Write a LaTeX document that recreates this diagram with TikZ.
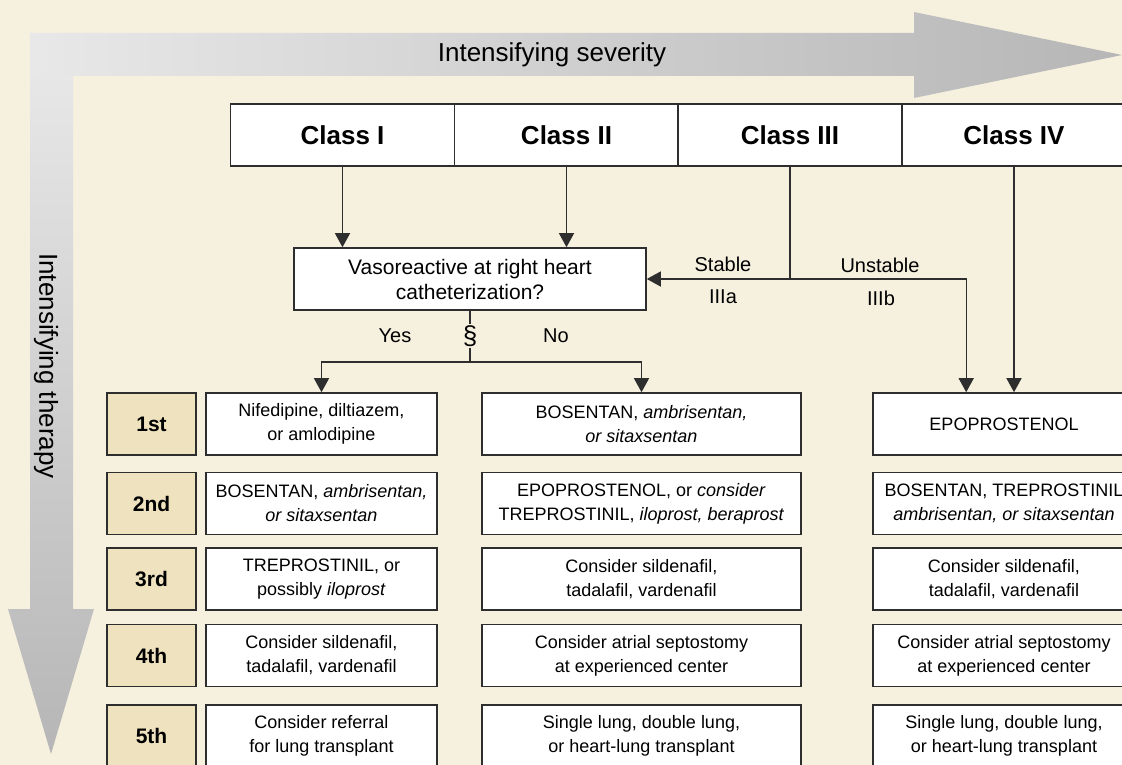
\documentclass[tikz,border=0pt]{standalone}
\usepackage{fontspec}
\setmainfont{Liberation Sans}
\usetikzlibrary{arrows.meta,calc}
\definecolor{bgc}{HTML}{F6F0DF}
\definecolor{tanc}{HTML}{EFE3BF}
\definecolor{edgec}{HTML}{2E2E2E}
\definecolor{arlight}{HTML}{E8E8E8}
\definecolor{ardark}{HTML}{B6B6B6}
\begin{document}
\begin{tikzpicture}[x=1pt,y=-1pt,
  box/.style={draw=edgec, line width=1.6pt, fill=white, inner sep=0pt, align=center,
    font=\fontsize{18}{24}\selectfont, text=black},
  rowbox/.style={box, fill=tanc, font=\fontsize{21}{24}\selectfont\bfseries,
    minimum width=89, minimum height=62},
  colA/.style={box, minimum width=231, minimum height=62},
  colB/.style={box, minimum width=319, minimum height=62},
  colC/.style={box, minimum width=262, minimum height=62},
  classbox/.style={box, font=\fontsize{26}{30}\selectfont\bfseries, minimum width=224, minimum height=62},
  lab/.style={font=\fontsize{20}{24}\selectfont, inner sep=1pt, text=black},
  bigtext/.style={font=\fontsize{26}{30}\selectfont, text=black},
  conn/.style={draw=edgec, line width=1.4pt},
  arr/.style={conn, -{Triangle[length=14pt,width=15pt]}}
]
\clip (0,0) rectangle (1122,765);
\fill[bgc] (0,0) rectangle (1122,765);

% big arrows
\shade[top color=arlight, bottom color=ardark]
  (30,60) -- (73,60) -- (73,609) -- (94,609) -- (51,754) -- (8,609) -- (30,609) -- cycle;
\shade[left color=arlight, right color=ardark]
  (30,33) -- (914,33) -- (914,12) -- (1122,55) -- (914,98) -- (914,76) -- (30,76) -- cycle;
\node[bigtext] (sev) at (552,55) {Intensifying severity};
\node[bigtext, rotate=-90] (ther) at (46,366) {Intensifying therapy};

% classes
\node[classbox] (cI) at (342.5,135) {Class I};
\node[classbox] (cII) at (566.5,135) {Class II};
\node[classbox] (cIII) at (790,135) {Class III};
\node[classbox] (cIV) at (1014,135) {Class IV};

% vasoreactive
\node[box, font=\fontsize{21}{25}\selectfont, minimum width=352, minimum height=62] (vaso) at (470,279)
  {Vasoreactive at right heart\\catheterization?};

% labels
\node[lab] (yes) at (395,336) {Yes};
\node[lab, font=\fontsize{26}{28}\selectfont, inner sep=1pt] (sec) at (470,336) {§};
\node[lab] (no) at (556,336) {No};
\node[lab] (stable) at (723,264) {Stable};
\node[lab] (IIIa) at (723,297) {IIIa};
\node[lab] (unstable) at (880,265) {Unstable};
\node[lab] (IIIb) at (881,298) {IIIb};

% row labels
\node[rowbox] (r1) at (151.5,424) {1st};
\node[rowbox] (r2) at (151.5,503.5) {2nd};
\node[rowbox] (r3) at (151.5,579) {3rd};
\node[rowbox] (r4) at (151.5,655.5) {4th};
\node[rowbox] (r5) at (151.5,736) {5th};

% column A
\node[colA] (a1) at (321.5,424) {Nifedipine, diltiazem,\\or amlodipine};
\node[colA] (a2) at (321.5,503.5) {BOSENTAN, \textit{ambrisentan,}\\\textit{or sitaxsentan}};
\node[colA] (a3) at (321.5,579) {TREPROSTINIL, or\\possibly \textit{iloprost}};
\node[colA] (a4) at (321.5,655.5) {Consider sildenafil,\\tadalafil, vardenafil};
\node[colA] (a5) at (321.5,736) {Consider referral\\for lung transplant};

% column B
\node[colB] (b1) at (641.5,424) {BOSENTAN, \textit{ambrisentan,}\\\textit{or sitaxsentan}};
\node[colB] (b2) at (641.5,503.5) {EPOPROSTENOL, or \textit{consider}\\TREPROSTINIL, \textit{iloprost, beraprost}};
\node[colB] (b3) at (641.5,579) {Consider sildenafil,\\tadalafil, vardenafil};
\node[colB] (b4) at (641.5,655.5) {Consider atrial septostomy\\at experienced center};
\node[colB] (b5) at (641.5,736) {Single lung, double lung,\\or heart-lung transplant};

% column C
\node[colC] (k1) at (1004,424) {EPOPROSTENOL};
\node[colC] (k2) at (1004,503.5) {BOSENTAN, TREPROSTINIL\\\textit{ambrisentan, or sitaxsentan}};
\node[colC] (k3) at (1004,579) {Consider sildenafil,\\tadalafil, vardenafil};
\node[colC] (k4) at (1004,655.5) {Consider atrial septostomy\\at experienced center};
\node[colC] (k5) at (1004,736) {Single lung, double lung,\\or heart-lung transplant};

% connectors
\draw[arr] (cI.south) -- (cI.south |- vaso.north);
\draw[arr] (cII.south) -- (cII.south |- vaso.north);
\coordinate (split3) at (cIII.south |- vaso.east);
\coordinate (k1in) at ($(k1.north west)+(94,0)$);
\draw[conn] (cIII.south) -- (split3);
\draw[arr] (split3) -- (vaso.east);
\draw[arr] (split3) -| (k1in);
\draw[arr] (cIV.south) -- (cIV.south |- k1.north);

\coordinate (splitYN) at (470,362);
\draw[conn] (vaso.south) -- (sec.north);
\draw[conn] (sec.south) -- (splitYN);
\draw[arr] (splitYN) -| (a1.north);
\draw[arr] (splitYN) -| (b1.north);
\end{tikzpicture}
\end{document}
